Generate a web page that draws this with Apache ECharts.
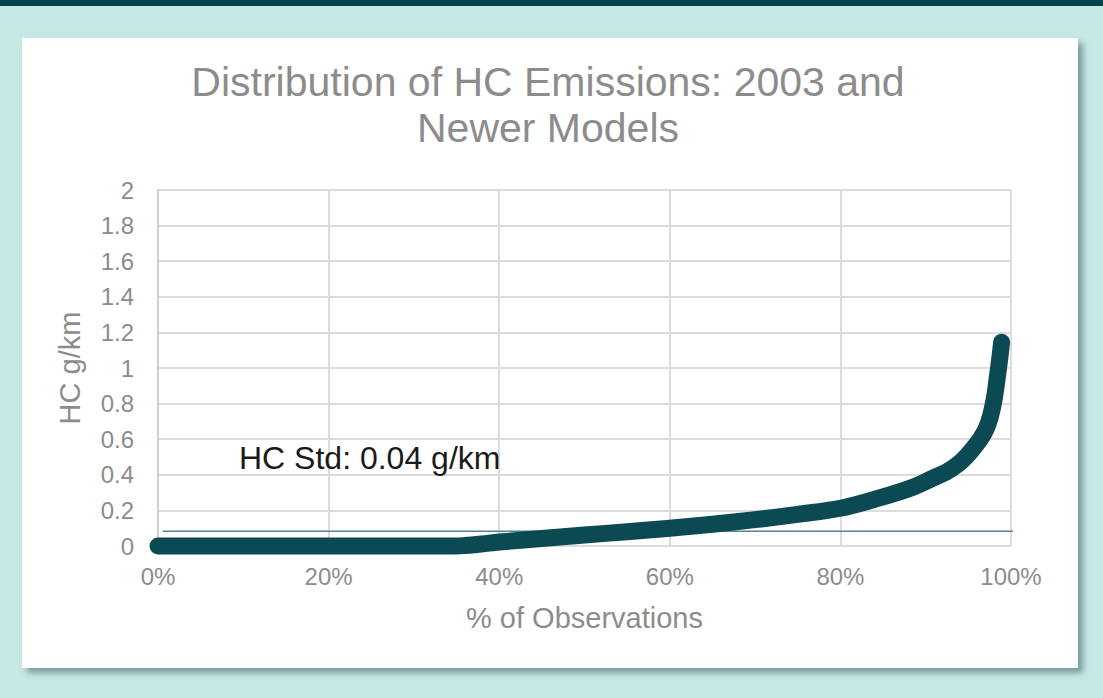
<!DOCTYPE html>
<html>
<head>
<meta charset="utf-8">
<title>Distribution of HC Emissions</title>
<script src="https://cdn.jsdelivr.net/npm/echarts@6/dist/echarts.min.js"></script>
<style>
    html, body { margin: 0; padding: 0; width: 1103px; height: 698px; overflow: hidden; background: #c8e8e6; }
    #topbar { position: absolute; left: 0; top: 0; width: 1103px; height: 6px; background: #00444d; }
    #card { position: absolute; left: 22px; top: 38px; width: 1056px; height: 630px; background: #fff;
            box-shadow: 5px 5px 6px rgba(60, 95, 95, 0.55); }
    #chart-container { position: absolute; left: 0; top: 0; width: 1103px; height: 698px; }
</style>
</head>
<body>
<div id="topbar"></div>
<div id="card"></div>
<div id="chart-container"></div>
<script>
const obsShare = [0, 0.05, 0.10, 0.15, 0.20, 0.25, 0.30, 0.35, 0.36, 0.38, 0.40, 0.45, 0.50, 0.55,
    0.60, 0.65, 0.70, 0.75, 0.80, 0.846, 0.885, 0.91, 0.924, 0.938, 0.948, 0.956, 0.964, 0.971,
    0.976, 0.9805, 0.984, 0.987, 0.989];
const hcValues = [0, 0, 0, 0, 0, 0, 0, 0, 0.003, 0.012, 0.022, 0.042, 0.062, 0.08,
    0.10, 0.122, 0.148, 0.178, 0.212, 0.27, 0.33, 0.385, 0.415, 0.46, 0.505, 0.55, 0.60, 0.66,
    0.73, 0.83, 0.95, 1.06, 1.145];

// 参考线
const stdLineX = [0.0055, 1.005];
const stdLineY = [0.083, 0.083];

const titleText = 'Distribution of HC Emissions: 2003 and\nNewer Models';
const stdLabel = 'HC Std: 0.04 g/km';

const FONT = '"Liberation Sans", Arial, sans-serif';
const GRAY = '#8c8c8c';

const chart = echarts.init(document.getElementById('chart-container'), null, { renderer: 'svg' });

const curveData = obsShare.map((x, i) => [x, hcValues[i]]);
const stdData = stdLineX.map((x, i) => [x, stdLineY[i]]);

const option = {
    backgroundColor: 'transparent',
    animation: false,
    title: {
        text: titleText,
        left: 543,
        top: 54,
        textAlign: 'center',
        textStyle: {
            fontFamily: FONT,
            fontSize: 41,
            fontWeight: 'normal',
            color: GRAY,
            lineHeight: 46,
        },
    },
    grid: {
        left: 158,
        right: 92,
        top: 190,
        bottom: 152,
        containLabel: false,
    },
    xAxis: {
        type: 'value',
        min: 0,
        max: 1,
        interval: 0.2,
        name: '% of Observations',
        nameLocation: 'middle',
        nameGap: 57,
        nameTextStyle: { fontFamily: FONT, fontSize: 29, color: GRAY },
        axisLine: { show: false },
        axisTick: { show: false },
        axisLabel: {
            fontFamily: FONT,
            fontSize: 24,
            color: GRAY,
            margin: 18,
            formatter: v => Math.round(v * 100) + '%',
        },
        splitLine: { show: true, lineStyle: { color: '#dcdcdc', width: 2 } },
    },
    yAxis: {
        type: 'value',
        min: 0,
        max: 2,
        interval: 0.2,
        name: 'HC g/km',
        nameLocation: 'middle',
        nameGap: 74,
        nameTextStyle: { fontFamily: FONT, fontSize: 29, color: GRAY },
        axisLine: { show: true, lineStyle: { color: '#cfcfcf', width: 2 } },
        axisTick: { show: false },
        axisLabel: {
            fontFamily: FONT,
            fontSize: 24,
            color: GRAY,
            margin: 24,
        },
        splitLine: { show: true, lineStyle: { color: '#dcdcdc', width: 2 } },
    },
    graphic: [
        {
            type: 'text',
            x: 239,
            y: 458,
            style: {
                text: stdLabel,
                font: '32px ' + FONT,
                fill: '#1a1a1a',
                verticalAlign: 'middle',
                align: 'left',
            },
            z: 10,
        },
    ],
    series: [
        {
            name: 'HC Std',
            type: 'line',
            data: stdData,
            showSymbol: false,
            clip: false,
            lineStyle: { color: '#56868c', width: 1.5 },
            z: 2,
        },
        {
            name: 'HC',
            type: 'line',
            data: curveData,
            showSymbol: false,
            clip: false,
            smooth: 0.35,
            lineStyle: { color: '#0b4a52', width: 17, cap: 'round', join: 'round' },
            z: 3,
        },
    ],
};

chart.setOption(option);
</script>
</body>
</html>
